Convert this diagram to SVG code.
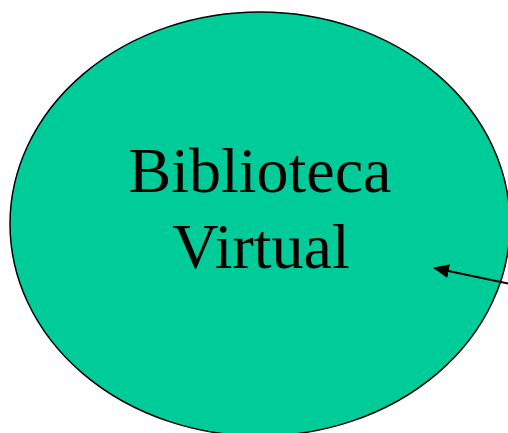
<svg xmlns="http://www.w3.org/2000/svg" width="508" height="433" viewBox="0 0 508 433">
<style>
.node{fill:#00CC99;stroke:#000;stroke-width:1.5}
.lbl{font-family:"Liberation Serif","Times New Roman",serif;font-size:64px;fill:#000;text-anchor:middle}
.conn{stroke:#000;stroke-width:2;fill:none}
</style>
<defs>
<marker id="ah" markerWidth="16" markerHeight="14" refX="15" refY="7" orient="auto" markerUnits="userSpaceOnUse">
<path d="M0,0 L16,7 L0,14 Z" fill="#000"/>
</marker>
</defs>
<rect width="508" height="433" fill="#fff"/>
<g id="biblioteca">
<ellipse class="node" cx="260" cy="224" rx="250" ry="212"/>
<text class="lbl" x="260" y="192">Biblioteca</text>
<text class="lbl" x="261" y="268">Virtual</text>
</g>
<g id="connectors">
<line class="conn" x1="510" y1="284" x2="434" y2="268" marker-end="url(#ah)"/>
</g>
</svg>
